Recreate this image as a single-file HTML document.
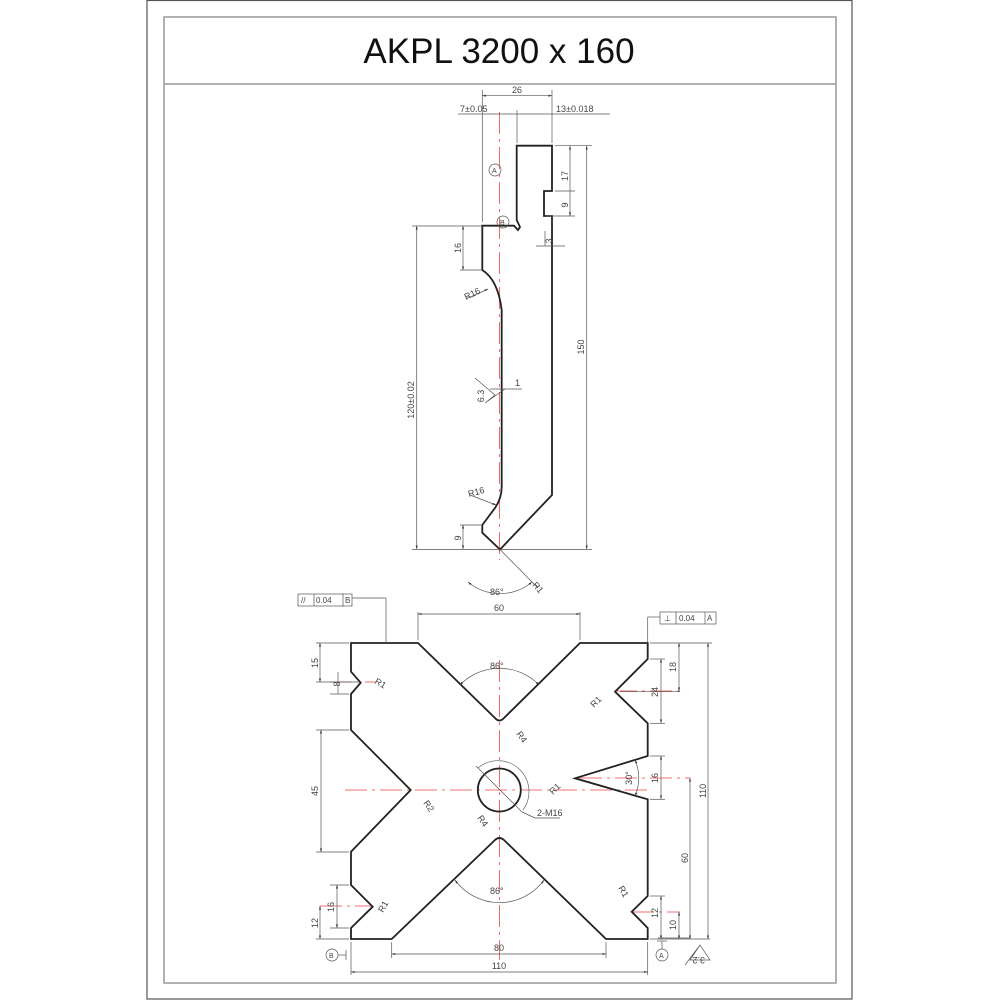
<!DOCTYPE html>
<html><head><meta charset="utf-8"><style>html,body{margin:0;padding:0;background:#fff}svg{display:block}</style></head>
<body>
<svg width="1000" height="1000" viewBox="0 0 1000 1000" xmlns="http://www.w3.org/2000/svg" font-family="Liberation Sans, sans-serif">
<defs>
<marker id="a" viewBox="0 0 10 10" refX="10" refY="5" markerWidth="7" markerHeight="5" orient="auto-start-reverse"><path d="M0,2 L10,5 L0,8 z" fill="#333"/></marker>
</defs>
<rect x="147" y="0.5" width="705" height="998.5" fill="none" stroke="#555" stroke-width="1.2"/>
<rect x="164" y="17" width="672" height="966" fill="none" stroke="#999" stroke-width="1.5"/>
<line x1="164" y1="84" x2="836" y2="84" stroke="#999" stroke-width="1.5"/>
<text x="499" y="63" font-size="35" text-anchor="middle" fill="#111">AKPL 3200 x 160</text>

<g stroke="#e44" stroke-width="0.8" stroke-dasharray="22,5,3,5" fill="none">
<line x1="499.5" y1="112" x2="499.5" y2="560"/>
<line x1="499.5" y1="660" x2="499.5" y2="960"/>
<line x1="345" y1="790" x2="650" y2="790"/>
<line x1="580" y1="778" x2="690" y2="778"/>
<line x1="330" y1="682" x2="375" y2="682"/>
<line x1="615" y1="691" x2="680" y2="691"/>
<line x1="320" y1="906" x2="372" y2="906"/>
<line x1="632" y1="912" x2="680" y2="912"/>
</g>

<path d="M516.7,145.7 L552,145.7 L552,191 L544,191 L544,216 L552,216 L552,495 L500,549.5 L482.3,532.7 L482.3,525 L495,508 Q501.7,498 501.7,486.7 L501.7,310 Q498,280 482.3,270 L482.3,225.7 L514,225.7 L518,230 L520,227 L516.7,220 Z" fill="none" stroke="#222" stroke-width="1.8"/>

<g stroke="#555" stroke-width="0.7" fill="none">
<line x1="482.3" y1="90" x2="482.3" y2="222"/>
<line x1="552" y1="90" x2="552" y2="143"/>
<line x1="482.3" y1="95.7" x2="552" y2="95.7" marker-start="url(#a)" marker-end="url(#a)"/>
<line x1="517" y1="110" x2="517" y2="143"/>
<line x1="458" y1="114" x2="610" y2="114"/>
<line x1="555" y1="145.7" x2="592" y2="145.7"/>
<line x1="555" y1="191" x2="575" y2="191"/>
<line x1="546" y1="216" x2="575" y2="216"/>
<line x1="570" y1="146" x2="570" y2="216" marker-start="url(#a)" marker-end="url(#a)"/>
<line x1="586.7" y1="146" x2="586.7" y2="549" marker-start="url(#a)" marker-end="url(#a)"/>
<line x1="412" y1="226" x2="482" y2="226"/>
<line x1="416.7" y1="226" x2="416.7" y2="549" marker-start="url(#a)" marker-end="url(#a)"/>
<line x1="412" y1="549.5" x2="592" y2="549.5"/>
<line x1="463" y1="226" x2="463" y2="270" marker-start="url(#a)" marker-end="url(#a)"/>
<line x1="460" y1="270" x2="482" y2="270"/>
<line x1="463" y1="525" x2="463" y2="549" marker-start="url(#a)" marker-end="url(#a)"/>
<line x1="460" y1="525" x2="482" y2="525"/>
<line x1="536" y1="246" x2="565" y2="246"/>
<line x1="545" y1="231" x2="545" y2="246"/>
<line x1="466" y1="299" x2="488" y2="289" marker-end="url(#a)"/>
<line x1="470" y1="495" x2="496" y2="505" marker-end="url(#a)"/>
<line x1="490" y1="389" x2="522" y2="389"/>
<path d="M475,378 L495,395 L485,403 L505,389"/>
<line x1="500" y1="549.5" x2="538" y2="588"/>
<path d="M468,582 A50,50 0 0 0 532,582" marker-start="url(#a)" marker-end="url(#a)"/>
</g>
<g fill="#444" font-size="9">
<text x="517" y="93" text-anchor="middle">26</text>
<text x="460" y="112">7±0.05</text>
<text x="556" y="112">13±0.018</text>
<text transform="translate(568,176) rotate(-90)" text-anchor="middle">17</text>
<text transform="translate(568,205) rotate(-90)" text-anchor="middle">9</text>
<text transform="translate(552,241) rotate(-90)" text-anchor="middle">3</text>
<text transform="translate(584,347) rotate(-90)" text-anchor="middle">150</text>
<text transform="translate(414,400) rotate(-90)" text-anchor="middle">120±0.02</text>
<text transform="translate(461,248) rotate(-90)" text-anchor="middle">16</text>
<text transform="translate(461,538) rotate(-90)" text-anchor="middle">9</text>
<text transform="translate(484,396) rotate(-90)" text-anchor="middle">6.3</text>
<text x="515" y="386">1</text>
<text transform="translate(466,300) rotate(-25)">R16</text>
<text transform="translate(469,497) rotate(-15)">R16</text>
<text transform="translate(532,585) rotate(50)">R1</text>
<text x="490" y="595">86°</text>
</g>
<circle cx="495" cy="170" r="6" fill="none" stroke="#555" stroke-width="0.7"/><text x="492" y="173" font-size="7" fill="#444">A</text>
<circle cx="503" cy="222" r="6" fill="none" stroke="#555" stroke-width="0.7"/><text x="500" y="225" font-size="7" fill="#444">B</text>

<path d="M351,643 L418,643 L495,718 Q499.3,723 504,718 L580,643 L647.7,643 L647.7,659 L615,691.7 L647.7,723.3 L647.7,756 L575,778.3 L647.7,799.3 L647.7,896 L631.7,911.7 L647.7,928 L647.7,939 L606,939 L504,840 Q499.3,836 495,840 L391.7,939 L351,939 L351,928 L372.7,906.7 L351,885 L351,851.7 L410.7,790 L351,730 L351,694 L360.7,682.7 L351,671.7 Z" fill="none" stroke="#222" stroke-width="1.8"/>
<circle cx="499.3" cy="790" r="21.5" fill="none" stroke="#222" stroke-width="1.8"/>
<path d="M478,768 A31,31 0 0 1 523,810" fill="none" stroke="#666" stroke-width="0.7"/>

<g stroke="#555" stroke-width="0.7" fill="none">
<line x1="418" y1="612" x2="418" y2="640"/><line x1="580" y1="612" x2="580" y2="640"/>
<line x1="418" y1="614" x2="580" y2="614" marker-start="url(#a)" marker-end="url(#a)"/>
<path d="M460,685 A55,55 0 0 1 539,685" marker-start="url(#a)" marker-end="url(#a)"/>
<path d="M455,880 A55,55 0 0 0 544,880" marker-start="url(#a)" marker-end="url(#a)"/>
<line x1="391.7" y1="942" x2="391.7" y2="958"/><line x1="606" y1="942" x2="606" y2="958"/>
<line x1="391.7" y1="954" x2="606" y2="954" marker-start="url(#a)" marker-end="url(#a)"/>
<line x1="351" y1="942" x2="351" y2="975"/><line x1="647.7" y1="942" x2="647.7" y2="975"/>
<line x1="351" y1="972" x2="647.7" y2="972" marker-start="url(#a)" marker-end="url(#a)"/>
<line x1="316" y1="643" x2="349" y2="643"/><line x1="316" y1="682" x2="358" y2="682"/><line x1="330" y1="694" x2="349" y2="694"/>
<line x1="320" y1="643" x2="320" y2="682" marker-start="url(#a)" marker-end="url(#a)"/>
<line x1="338" y1="672" x2="338" y2="694"/>
<line x1="316" y1="730" x2="349" y2="730"/><line x1="316" y1="852" x2="349" y2="852"/>
<line x1="321" y1="730" x2="321" y2="852" marker-start="url(#a)" marker-end="url(#a)"/>
<line x1="330" y1="885" x2="349" y2="885"/><line x1="330" y1="928" x2="349" y2="928"/><line x1="316" y1="939" x2="349" y2="939"/>
<line x1="337" y1="885" x2="337" y2="928" marker-start="url(#a)" marker-end="url(#a)"/>
<line x1="320" y1="906" x2="320" y2="939" marker-start="url(#a)" marker-end="url(#a)"/>
<line x1="650" y1="643" x2="712" y2="643"/><line x1="650" y1="659" x2="665" y2="659"/>
<line x1="620" y1="691.7" x2="680" y2="691.7"/><line x1="650" y1="723.3" x2="665" y2="723.3"/>
<line x1="679" y1="643" x2="679" y2="691" marker-start="url(#a)" marker-end="url(#a)"/>
<line x1="661" y1="659" x2="661" y2="723" marker-start="url(#a)" marker-end="url(#a)"/>
<line x1="650" y1="756" x2="665" y2="756"/><line x1="650" y1="799.3" x2="665" y2="799.3"/>
<line x1="661" y1="756" x2="661" y2="799" marker-start="url(#a)" marker-end="url(#a)"/>
<path d="M635,760 A45,45 0 0 1 635,796" marker-start="url(#a)" marker-end="url(#a)"/>
<line x1="650" y1="896" x2="665" y2="896"/><line x1="650" y1="939" x2="710" y2="939"/>
<line x1="661" y1="896" x2="661" y2="939" marker-start="url(#a)" marker-end="url(#a)"/>
<line x1="679" y1="912" x2="679" y2="939" marker-start="url(#a)" marker-end="url(#a)"/>
<line x1="690" y1="778" x2="690" y2="939" marker-start="url(#a)" marker-end="url(#a)"/>
<line x1="708" y1="643" x2="708" y2="939" marker-start="url(#a)" marker-end="url(#a)"/>
<line x1="386" y1="643" x2="386" y2="598"/><line x1="386" y1="598" x2="352" y2="598"/>
<line x1="647.7" y1="643" x2="647.7" y2="617"/><line x1="647.7" y1="617" x2="660" y2="617"/>
<line x1="476" y1="766" x2="522" y2="812"/><line x1="522" y1="812" x2="535" y2="818"/><line x1="535" y1="818" x2="560" y2="818"/>
<line x1="658" y1="938" x2="690" y2="938"/><path d="M690,960 L700,945 L710,960 Z M685,965 L700,945"/>
</g>
<g font-size="9" fill="#444">
<text x="499" y="611" text-anchor="middle">60</text>
<text x="490" y="669">86°</text>
<text x="490" y="894">86°</text>
<text x="499" y="951" text-anchor="middle">80</text>
<text x="499" y="969" text-anchor="middle">110</text>
<text transform="translate(318,663) rotate(-90)" text-anchor="middle">15</text>
<text transform="translate(340,684) rotate(-90)" text-anchor="middle">8</text>
<text transform="translate(318,791) rotate(-90)" text-anchor="middle">45</text>
<text transform="translate(334,907) rotate(-90)" text-anchor="middle">16</text>
<text transform="translate(318,923) rotate(-90)" text-anchor="middle">12</text>
<text transform="translate(676,667) rotate(-90)" text-anchor="middle">18</text>
<text transform="translate(658,692) rotate(-90)" text-anchor="middle">24</text>
<text transform="translate(658,778) rotate(-90)" text-anchor="middle">16</text>
<text transform="translate(632,778) rotate(-90)" text-anchor="middle">30°</text>
<text transform="translate(658,913) rotate(-90)" text-anchor="middle">12</text>
<text transform="translate(676,925) rotate(-90)" text-anchor="middle">10</text>
<text transform="translate(688,858) rotate(-90)" text-anchor="middle">60</text>
<text transform="translate(706,791) rotate(-90)" text-anchor="middle">110</text>
<text transform="translate(374,683) rotate(30)">R1</text>
<text transform="translate(594,708) rotate(-45)">R1</text>
<text transform="translate(516,734) rotate(55)">R4</text>
<text transform="translate(553,795) rotate(-45)">R1</text>
<text transform="translate(423,803) rotate(55)">R2</text>
<text transform="translate(477,818) rotate(55)">R4</text>
<text x="537" y="816">2-M16</text>
<text transform="translate(383,913) rotate(-60)">R1</text>
<text transform="translate(618,888) rotate(60)">R1</text>
<text transform="translate(705,957) rotate(180)">3.2</text>
</g>
<g stroke="#555" stroke-width="0.7" fill="none">
<rect x="298" y="594" width="54" height="12"/><line x1="314" y1="594" x2="314" y2="606"/><line x1="343" y1="594" x2="343" y2="606"/>
<rect x="660" y="612" width="56" height="12"/><line x1="676" y1="612" x2="676" y2="624"/><line x1="705" y1="612" x2="705" y2="624"/>
<circle cx="332" cy="955" r="6"/><line x1="338" y1="955" x2="346" y2="955"/><line x1="346" y1="950" x2="346" y2="960"/>
<circle cx="662" cy="955" r="6"/><line x1="662" y1="949" x2="662" y2="941"/><line x1="657" y1="941" x2="667" y2="941"/>
</g>
<g font-size="8" fill="#444">
<text x="301" y="603">//</text><text x="316" y="603">0.04</text><text x="345" y="603">B</text>
<text x="664" y="621">⊥</text><text x="679" y="621">0.04</text><text x="707" y="621">A</text>
<text x="329" y="958" font-size="7">B</text><text x="659" y="958" font-size="7">A</text>
</g>
</svg>
</body></html>
